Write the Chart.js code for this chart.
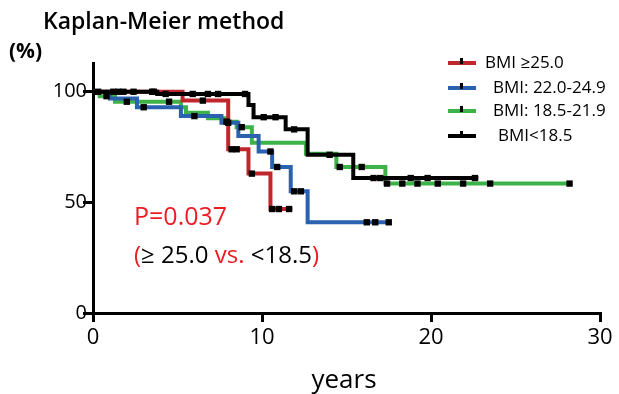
<!DOCTYPE html>
<html>
<head>
<meta charset="utf-8">
<script src="https://cdn.jsdelivr.net/npm/chart.js@4"></script>
<style>
  body { margin: 0; background: #fff; }
</style>
</head>
<body>
<canvas id="kmChart" width="619" height="394"></canvas>
<script>
// step points: time (years) and survival (%) after the drop
const redT = [0, 5.3, 8.0, 9.2, 10.5, 11.8];
const redS = [100, 96, 74, 63, 47, 47];
const blueT = [0, 1.0, 2.6, 5.2, 7.6, 8.6, 9.8, 10.6, 11.7, 12.7, 17.5];
const blueS = [100, 97, 93, 89, 86, 80, 73, 66, 55, 41, 41];
const greenT = [0, 0.4, 1.3, 5.2, 5.5, 6.8, 7.8, 8.5, 9.4, 12.6, 14.4, 17.3, 28.3];
const greenS = [100, 98, 95.5, 93, 90.5, 88, 86.5, 84, 77, 72, 66, 58.5, 58.5];
const blackT = [0, 3.8, 9.2, 9.5, 11.4, 12.7, 15.4, 22.8];
const blackS = [100, 99, 94, 88.5, 83, 71.5, 61, 61];

// censored observations (years)
const redC = [1.5, 3.5, 6.5, 8.2, 8.5, 9.4, 10.6, 11.0, 11.6];
const blueC = [3.0, 6.0, 8.0, 10.5, 10.9, 11.9, 12.3, 16.2, 16.7, 17.5];
const greenC = [0.8, 2.0, 4.5, 7.9, 8.8, 14.6, 15.9, 17.4, 18.3, 19.2, 20.4, 21.9, 23.5, 28.2];
const blackC = [0.3, 1.2, 1.8, 2.4, 3.6, 4.3, 5.9, 6.8, 7.4, 9.0, 10.1, 10.8, 11.9, 14.0, 16.6, 17.0, 18.8, 19.8, 22.6];

const xTicks = [0, 10, 20, 30];
const yTicks = [0, 50, 100];

const legendLabels = ["BMI \u226525.0", "BMI: 22.0-24.9", "BMI: 18.5-21.9", "BMI<18.5"];
const colors = ["rgb(192,39,45)", "rgb(43,98,176)", "rgb(61,178,72)", "#000"];

function toPoints(ts, ss) {
  return ts.map((t, i) => ({ x: t, y: ss[i] }));
}

// value of the step curve at time t
function survAt(ts, ss, t) {
  let v = ss[0];
  for (let i = 0; i < ts.length; i++) {
    if (ts[i] <= t) v = ss[i];
  }
  return v;
}

function censorPoints(cs, ts, ss) {
  return cs.map((t) => ({ x: t, y: survAt(ts, ss, t) }));
}

function kmLine(label, pts, color) {
  return {
    type: "line",
    label: label,
    data: pts,
    stepped: "before",
    borderColor: color,
    borderWidth: 4,
    pointRadius: 0,
    fill: false,
  };
}

function censorSet(pts) {
  return {
    type: "scatter",
    data: pts,
    pointStyle: "rect",
    pointRadius: 4.5,
    backgroundColor: "#000",
    borderColor: "#000",
    borderWidth: 0,
  };
}

const textPlugin = {
  id: "texts",
  afterDraw(chart) {
    const c = chart.ctx;
    c.save();
    c.fillStyle = "#000";
    c.textBaseline = "middle";
    c.textAlign = "left";

    c.font = "600 23px 'Open Sans'";
    c.fillText("Kaplan-Meier method", 43, 22);
    c.font = "bold 21px 'Open Sans'";
    c.fillText("(%)", 9, 52);

    // legend
    const ly = [63, 88, 111, 136];
    const lx = [485, 493, 493, 498];
    for (let i = 0; i < 4; i++) {
      c.strokeStyle = colors[i];
      c.lineWidth = 4;
      c.beginPath();
      c.moveTo(448, ly[i]);
      c.lineTo(476, ly[i]);
      c.stroke();
      c.fillStyle = "#000";
      c.fillRect(460, ly[i] - 5, 3, 6);
      c.font = "17px 'Open Sans'";
      c.fillText(legendLabels[i], lx[i], ly[i]);
    }

    // p value
    c.font = "25px 'Open Sans'";
    c.fillStyle = "rgb(237,28,36)";
    c.fillText("P=0.037", 134, 218);
    let x = 134;
    const parts = [["(", "rgb(237,28,36)"], ["\u2265 25.0 ", "#000"], ["vs.", "rgb(237,28,36)"], [" <18.5", "#000"], [")", "rgb(237,28,36)"]];
    c.font = "24px 'Open Sans'";
    parts.forEach(([s, col]) => {
      c.fillStyle = col;
      c.fillText(s, x, 256);
      x += c.measureText(s).width;
    });

    c.fillStyle = "#000";
    c.textAlign = "center";
    c.font = "26px 'Open Sans'";
    c.fillText("years", 344, 381);
    c.restore();
  },
};

new Chart(document.getElementById("kmChart"), {
  data: {
    datasets: [
      censorSet(censorPoints(blackC, blackT, blackS)),
      censorSet(censorPoints(redC, redT, redS)),
      censorSet(censorPoints(blueC, blueT, blueS)),
      censorSet(censorPoints(greenC, greenT, greenS)),
      kmLine(legendLabels[3], toPoints(blackT, blackS), colors[3]),
      kmLine(legendLabels[0], toPoints(redT, redS), colors[0]),
      kmLine(legendLabels[1], toPoints(blueT, blueS), colors[1]),
      kmLine(legendLabels[2], toPoints(greenT, greenS), colors[2]),
    ],
  },
  options: {
    responsive: false,
    animation: false,
    layout: { padding: { top: 63, right: 19, left: 0, bottom: 0 } },
    plugins: { legend: { display: false }, tooltip: { enabled: false } },
    scales: {
      x: {
        type: "linear",
        min: 0,
        max: 30,
        afterBuildTicks: (s) => { s.ticks = xTicks.map((v) => ({ value: v })); },
        afterFit: (s) => { s.height = 81; },
        ticks: { color: "#000", font: { family: "Open Sans", size: 22 }, padding: 3, maxRotation: 0 },
        grid: { drawOnChartArea: false, tickLength: 9, lineWidth: 3, color: "#000" },
        border: { color: "#000", width: 3 },
      },
      y: {
        type: "linear",
        min: 0,
        max: 113,
        afterBuildTicks: (s) => { s.ticks = yTicks.map((v) => ({ value: v })); },
        afterFit: (s) => { s.width = 93; },
        ticks: { color: "#000", font: { family: "Open Sans", size: 20 }, padding: -4 },
        grid: { drawOnChartArea: false, tickLength: 10, lineWidth: 3, color: "#000" },
        border: { color: "#000", width: 3 },
      },
    },
  },
  plugins: [textPlugin],
});
</script>
</body>
</html>
